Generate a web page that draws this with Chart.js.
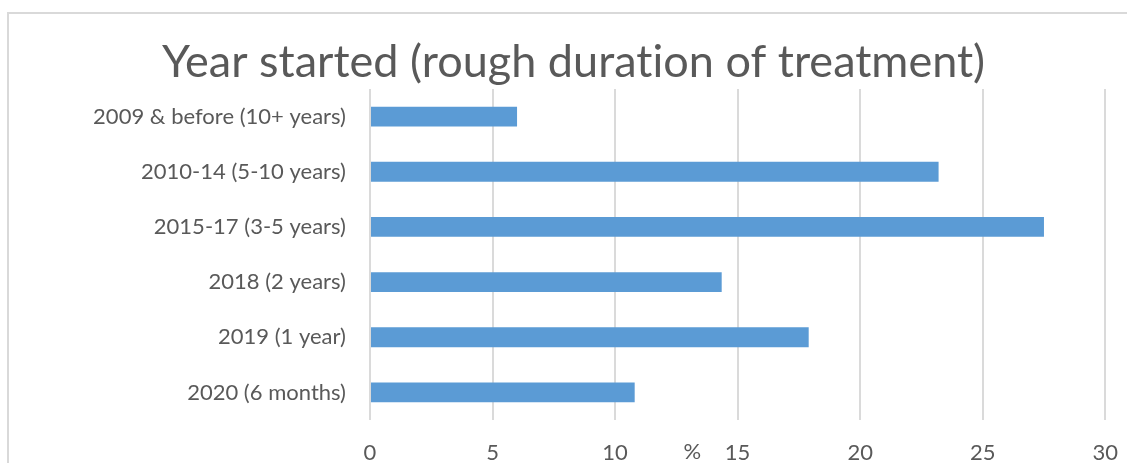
<!DOCTYPE html>
<html>
<head>
<meta charset="utf-8">
<script src="https://cdn.jsdelivr.net/npm/chart.js@4"></script>
<style>
  html, body { margin: 0; padding: 0; background: #fff; overflow: hidden; }
  #frame { position: absolute; left: 7px; top: 12px; width: 1200px; height: 600px; border: 2px solid #d9d9d9; }
  #chart { display: block; }
</style>
</head>
<body>
<div id="frame"><canvas id="chart" width="1129" height="449"></canvas></div>
<script>
'use strict';

const categories = [
  '2009 & before (10+ years)',
  '2010-14 (5-10 years)',
  '2015-17 (3-5 years)',
  '2018 (2 years)',
  '2019 (1 year)',
  '2020 (6 months)'
];
const percentValues = [6.0, 23.2, 27.5, 14.35, 17.9, 10.8];
const xTicks = [0, 5, 10, 15, 20, 25, 30];
const titleText = 'Year started (rough duration of treatment)';
const axisLabel = '%';

const textGrey = '#595959';
const fontFamily = 'Lato, "Open Sans", sans-serif';

// Lato would otherwise join "ti" into a ligature
const noLigatures = {
  id: 'noLigatures',
  beforeDraw(chart) {
    chart.ctx.textRendering = 'optimizeSpeed';
    chart.ctx.letterSpacing = '0.01px';
  }
};

// the "%" sits in the tick-label row, a little left of the 15 tick
const percentLabel = {
  id: 'percentLabel',
  afterDraw(chart) {
    const ctx = chart.ctx;
    const x = chart.scales.x;
    ctx.save();
    ctx.fillStyle = textGrey;
    ctx.font = '22px ' + fontFamily;
    ctx.textAlign = 'center';
    ctx.textBaseline = 'middle';
    ctx.fillText(axisLabel, x.getPixelForValue(13.15), x.top + 32);
    ctx.restore();
  }
};

function renderChart() {
  const ctx = document.getElementById('chart');

  new Chart(ctx, {
    type: 'bar',
    data: {
      labels: categories,
      datasets: [{
        label: 'Year started',
        data: percentValues,
        backgroundColor: '#5b9bd5',
        borderWidth: 0,
        barPercentage: 0.36,
        categoryPercentage: 1
      }]
    },
    options: {
      indexAxis: 'y',
      responsive: false,
      animation: false,
      layout: { padding: 0 },
      plugins: {
        legend: { display: false },
        tooltip: { enabled: false },
        title: {
          display: true,
          text: titleText,
          color: textGrey,
          font: { family: fontFamily, size: 45, weight: 'normal', lineHeight: 1.2 },
          padding: { top: 21, bottom: 0 }
        }
      },
      scales: {
        x: {
          min: 0,
          max: 30,
          afterBuildTicks(scale) {
            scale.ticks = xTicks.map(v => ({ value: v }));
          },
          afterFit(scale) { scale.height = 43; },
          grid: { color: '#dadada', lineWidth: 2, drawTicks: false },
          border: { display: false },
          ticks: {
            color: textGrey,
            font: { family: fontFamily, size: 22 },
            padding: 20,
            maxRotation: 0
          }
        },
        y: {
          afterFit(scale) { scale.width = 361; },
          grid: { display: false, drawTicks: false },
          border: { display: false },
          ticks: {
            color: textGrey,
            font: { family: fontFamily, size: 22 },
            padding: 24
          }
        }
      }
    },
    plugins: [noLigatures, percentLabel]
  });
}

renderChart();
</script>
</body>
</html>
